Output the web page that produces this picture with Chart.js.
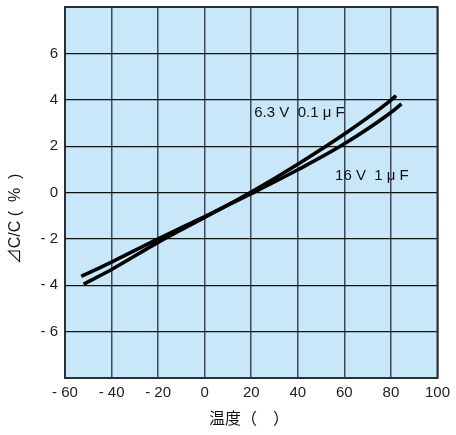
<!DOCTYPE html>
<html>
<head>
<meta charset="utf-8">
<script src="https://cdn.jsdelivr.net/npm/chart.js@4/dist/chart.umd.min.js"></script>
<style>
  html, body { margin: 0; padding: 0; background: #fff; }
  #wrap { width: 456px; height: 435px; }
</style>
</head>
<body>
<div id="wrap"><canvas id="capChart"></canvas></div>
<script>
// temperature characteristic, two capacitor types
const tempLow = [-52, -40, -20, 0, 20, 40, 60, 80, 82.2];
const capLow = [-3.95, -3.32, -2.15, -1.07, 0.02, 1.22, 2.52, 3.98, 4.18];

const tempHigh = [-53, -40, -20, 0, 20, 40, 60, 80, 84.5];
const capHigh = [-3.62, -3.0, -2.0, -1.04, -0.05, 0.98, 2.1, 3.45, 3.82];

const xTicks = [-60, -40, -20, 0, 20, 40, 60, 80, 100];
const yTicks = [-8, -6, -4, -2, 0, 2, 4, 6, 8];

const seriesNames = ['6.3 V  0.1 μ F', '16 V  1 μ F'];

const FONT = '"Liberation Sans", Arial, "Noto Sans CJK JP", sans-serif';
const CJK = '"Noto Sans CJK JP", "Liberation Sans", sans-serif';

function toPoints(xs, ys) {
  return xs.map((x, i) => ({ x: x, y: ys[i] }));
}

function signLabel(v) {
  return v < 0 ? '- ' + Math.abs(v) : String(v);
}

const plotBg = {
  id: 'plotBg',
  beforeDraw(chart) {
    const a = chart.chartArea;
    const ctx = chart.ctx;
    ctx.save();
    ctx.fillStyle = '#c8e8f9';
    ctx.fillRect(a.left, a.top, a.right - a.left, a.bottom - a.top);
    ctx.restore();
  },
  afterDraw(chart) {
    const a = chart.chartArea;
    const ctx = chart.ctx;
    const xs = chart.scales.x, ys = chart.scales.y;
    ctx.save();
    // frame
    ctx.strokeStyle = '#2a2f33';
    ctx.lineWidth = 2;
    ctx.strokeRect(a.left, a.top, a.right - a.left, a.bottom - a.top);

    // curve names
    ctx.fillStyle = '#111';
    ctx.font = '15px ' + FONT;
    ctx.textBaseline = 'middle';
    ctx.textAlign = 'left';
    ctx.fillText(seriesNames[0], xs.getPixelForValue(21.3), ys.getPixelForValue(3.45));
    ctx.fillText(seriesNames[1], xs.getPixelForValue(56), ys.getPixelForValue(0.7));

    // axis titles
    ctx.font = '16px ' + CJK;
    ctx.textAlign = 'center';
    ctx.fillText('温度（　）', 249, 418);

    ctx.translate(16, 219);
    ctx.rotate(-Math.PI / 2);
    ctx.font = '16px ' + FONT;
    ctx.fillText('⊿C/C (  %  )', 0, 0);
    ctx.restore();
  }
};

new Chart(document.getElementById('capChart'), {
  type: 'scatter',
  data: {
    datasets: [
      {
        label: seriesNames[0],
        data: toPoints(tempLow, capLow),
        showLine: true,
        borderColor: '#000',
        borderWidth: 3.6,
        borderCapStyle: 'butt',
        pointRadius: 0,
        cubicInterpolationMode: 'monotone'
      },
      {
        label: seriesNames[1],
        data: toPoints(tempHigh, capHigh),
        showLine: true,
        borderColor: '#000',
        borderWidth: 3.6,
        borderCapStyle: 'butt',
        pointRadius: 0,
        cubicInterpolationMode: 'monotone'
      }
    ]
  },
  options: {
    responsive: true,
    maintainAspectRatio: false,
    animation: false,
    layout: { padding: { top: 7, right: 17, bottom: 0, left: 0 } },
    plugins: {
      legend: { display: false },
      tooltip: { enabled: false }
    },
    scales: {
      x: {
        type: 'linear',
        min: -60,
        max: 100,
        afterBuildTicks(scale) { scale.ticks = xTicks.map(v => ({ value: v })); },
        afterFit(scale) { scale.height = 57; },
        border: { display: false },
        grid: { color: '#3d4a55', lineWidth: 1.5, drawTicks: false },
        ticks: {
          padding: 6,
          color: '#222',
          font: { family: FONT, size: 15 },
          callback: v => signLabel(v)
        }
      },
      y: {
        type: 'linear',
        min: -8,
        max: 8,
        afterBuildTicks(scale) { scale.ticks = yTicks.map(v => ({ value: v })); },
        afterFit(scale) {
          scale.width = 65;
          scale.paddingTop = 0;
          scale.paddingBottom = 0;
        },
        border: { display: false },
        grid: { color: '#111', lineWidth: 1.2, drawTicks: false },
        ticks: {
          padding: 7,
          color: '#222',
          font: { family: FONT, size: 15 },
          callback: v => (Math.abs(v) === 8 ? '' : signLabel(v))
        }
      }
    }
  },
  plugins: [plotBg]
});
</script>
</body>
</html>
